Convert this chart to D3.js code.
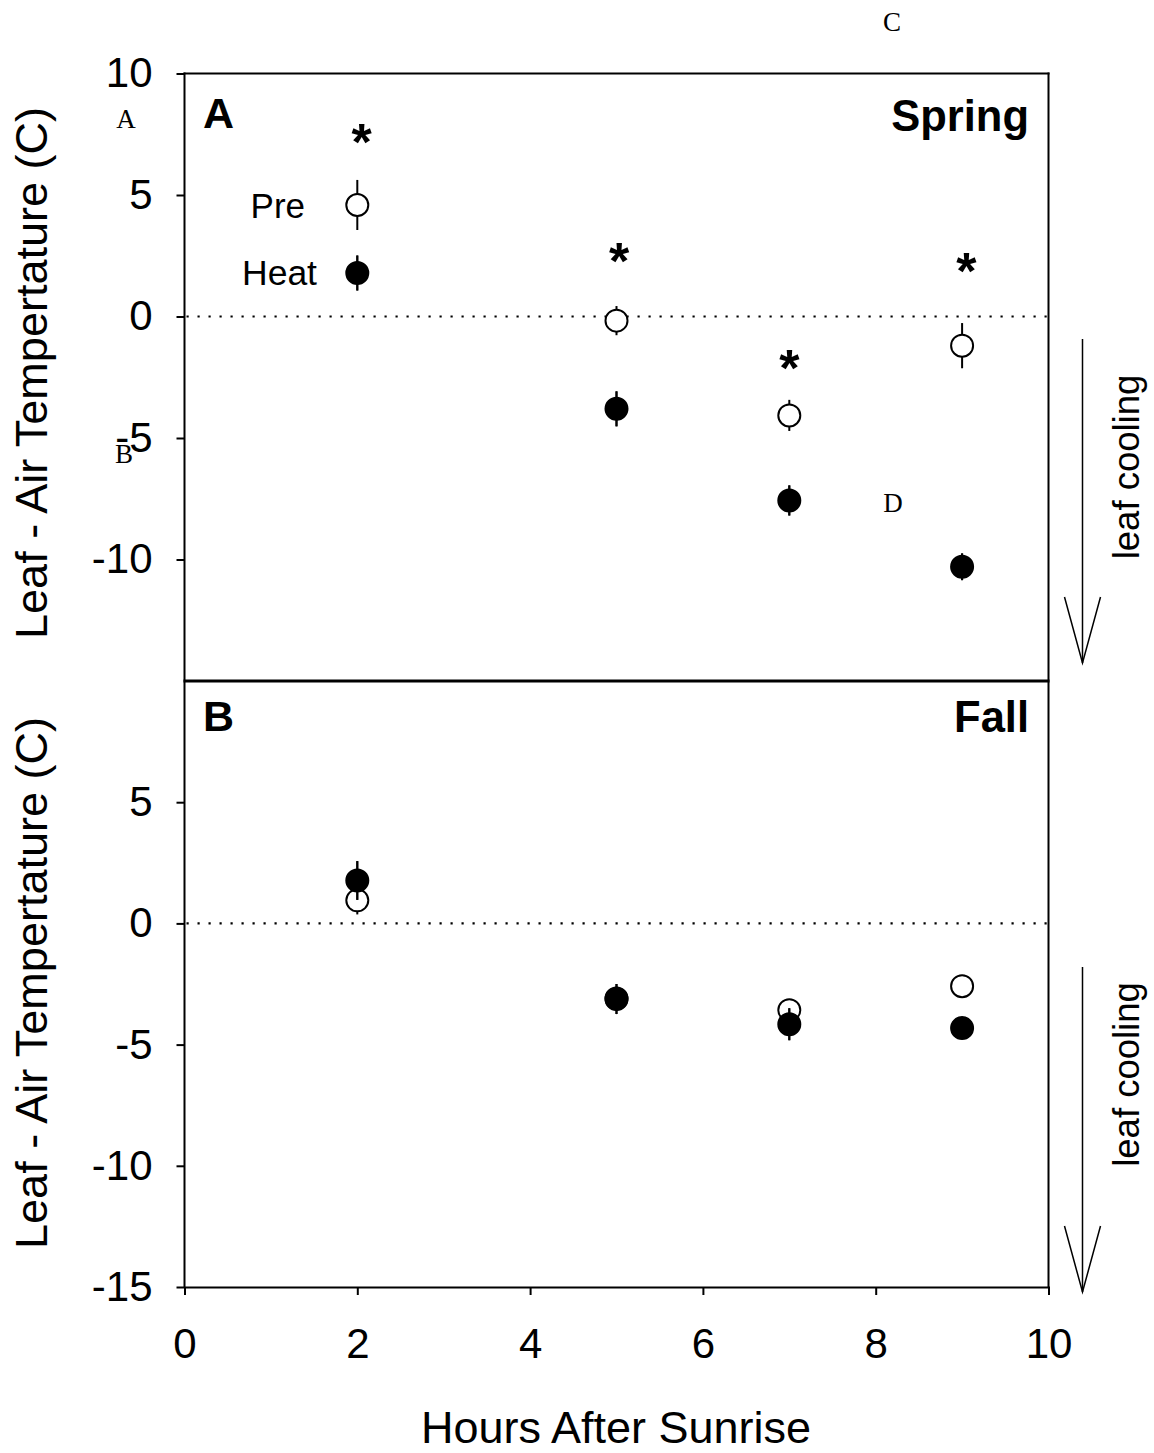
<!DOCTYPE html>
<html><head><meta charset="utf-8">
<script src="https://cdn.jsdelivr.net/npm/d3@7"></script>
<style>
body{margin:0;background:#fff}
svg{display:block}
text{font-family:"Liberation Sans",Arial,Helvetica,sans-serif;fill:#000}
</style>
</head><body>
<svg id="c" width="1154" height="1453"></svg>
<script>
// ---- data ----
const hours = [2, 5, 7, 9];
const springPre = [4.59, -0.17, -4.07, -1.2];
const springPreErr = [1.03, 0.6, 0.64, 0.93];
const springHeat = [1.79, -3.8, -7.57, -10.3];
const springHeatErr = [0.72, 0.72, 0.62, 0.55];
const fallPre = [0.95, -3.1, -3.58, -2.59];
const fallPreErr = [0.58, 0.5, 0.4, 0.3];
const fallHeat = [1.77, -3.12, -4.16, -4.32];
const fallHeatErr = [0.8, 0.62, 0.66, 0.3];
const springStarHours = [2.05, 5.03, 7.0, 9.05];
const springStarY = [7.5, 2.6, -1.8, 2.2];
const xTicks = [0, 2, 4, 6, 8, 10];
const springYTicks = [10, 5, 0, -5, -10];
const fallYTicks = [5, 0, -5, -10, -15];
const seriesNames = ["Pre", "Heat"];

// ---- layout ----
const svg = d3.select("#c");
const X0 = 184.5, X1 = 1048.5;
const x = d3.scaleLinear().domain([0, 10]).range([X0, X1]);
const fmt = d => String(d);
const panels = [
  {name: "Spring", tag: "A", top: 73.5, bottom: 681,
   pre: springPre, preErr: springPreErr, heat: springHeat, heatErr: springHeatErr, ticks: springYTicks,
   titleY: 373, coolY: 467, arrowTop: 339, arrowTip: 663},
  {name: "Fall", tag: "B", top: 681, bottom: 1287,
   pre: fallPre, preErr: fallPreErr, heat: fallHeat, heatErr: fallHeatErr, ticks: fallYTicks,
   titleY: 983, coolY: 1074.5, arrowTop: 967, arrowTip: 1292}
];

panels.forEach((p, pi) => {
  const y = d3.scaleLinear().domain([-15, 10]).range([p.bottom, p.top]);
  p.y = y;
  const g = svg.append("g");

  // y axis
  const ax = g.append("g").attr("transform", `translate(${X0},0)`)
    .call(d3.axisLeft(y).tickValues(p.ticks).tickSize(8).tickPadding(24).tickFormat(fmt));
  ax.select(".domain").remove();
  ax.selectAll(".tick line").attr("stroke", "#000").attr("stroke-width", 2);
  ax.selectAll(".tick text").attr("font-size", 42).attr("font-family", '"Liberation Sans",Arial,sans-serif').attr("fill", "#000");

  // zero dotted line
  g.append("line").attr("x1", X0 + 2).attr("x2", X1).attr("y1", y(0)).attr("y2", y(0))
    .attr("stroke", "#000").attr("stroke-width", 2.2).attr("stroke-dasharray", "2.2,8.8");

  // series: Pre first then Heat
  const series = [
    {vals: p.pre, err: p.preErr, fill: "#fff"},
    {vals: p.heat, err: p.heatErr, fill: "#000"}
  ];
  series.forEach(s => {
    const sg = g.append("g");
    sg.selectAll("line").data(hours).join("line")
      .attr("x1", (d) => x(d)).attr("x2", (d) => x(d))
      .attr("y1", (d, i) => y(s.vals[i] + s.err[i]))
      .attr("y2", (d, i) => y(s.vals[i] - s.err[i]))
      .attr("stroke", "#000").attr("stroke-width", 2);
    sg.selectAll("circle").data(hours).join("circle")
      .attr("cx", (d) => x(d)).attr("cy", (d, i) => y(s.vals[i]))
      .attr("r", 11).attr("fill", s.fill).attr("stroke", "#000").attr("stroke-width", 2);
  });
  // heat error bars drawn over the open markers
  g.append("g").selectAll("line").data(hours).join("line")
    .attr("x1", (d) => x(d)).attr("x2", (d) => x(d))
    .attr("y1", (d, i) => y(p.heat[i] + p.heatErr[i]))
    .attr("y2", (d, i) => y(p.heat[i] - p.heatErr[i]))
    .attr("stroke", "#000").attr("stroke-width", 2);

  // panel letter & season
  g.append("text").attr("x", 203).attr("y", p.top + (pi === 0 ? 54.5 : 50))
    .attr("font-size", 43).attr("font-weight", "bold").text(p.tag);
  g.append("text").attr("x", 1029).attr("y", p.top + (pi === 0 ? 57 : 51)).attr("text-anchor", "end")
    .attr("font-size", 43.5).attr("font-weight", "bold").text(p.name);

  // y title
  g.append("text").attr("transform", `translate(47,${p.titleY}) rotate(-90)`)
    .attr("text-anchor", "middle").attr("font-size", 45).text("Leaf - Air Tempertature (C)");

  // leaf cooling arrow
  const ax2 = 1082.5;
  g.append("line").attr("x1", ax2).attr("x2", ax2).attr("y1", p.arrowTop).attr("y2", p.arrowTip)
    .attr("stroke", "#000").attr("stroke-width", 1.5);
  g.append("path").attr("d", `M${ax2 - 18},${p.arrowTip - 66}L${ax2},${p.arrowTip}L${ax2 + 18},${p.arrowTip - 66}`)
    .attr("fill", "none").attr("stroke", "#000").attr("stroke-width", 1.5);
  g.append("text").attr("transform", `translate(1139,${p.coolY}) rotate(-90)`)
    .attr("text-anchor", "middle").attr("font-size", 36.5).text("leaf cooling");
});

// stars (spring)
const yS = panels[0].y;
svg.append("g").selectAll("text").data(springStarHours).join("text")
  .attr("x", d => x(d)).attr("y", (d, i) => yS(springStarY[i]) + 26)
  .attr("text-anchor", "middle").attr("font-size", 52).attr("font-weight", "bold").text("*");

// series labels next to first points
svg.append("text").attr("x", 305).attr("y", 218).attr("text-anchor", "end").attr("font-size", 35).text(seriesNames[0]);
svg.append("text").attr("x", 317).attr("y", 285).attr("text-anchor", "end").attr("font-size", 35.5).text(seriesNames[1]);

// frame
const fr = svg.append("g").attr("stroke", "#000").attr("fill", "none");
fr.append("line").attr("x1", X0).attr("x2", X0).attr("y1", 72.5).attr("y2", 1288).attr("stroke-width", 2);
fr.append("line").attr("x1", X1).attr("x2", X1).attr("y1", 72.5).attr("y2", 1288).attr("stroke-width", 2);
fr.append("line").attr("x1", X0 - 1).attr("x2", X1 + 1).attr("y1", 73.5).attr("y2", 73.5).attr("stroke-width", 2);
fr.append("line").attr("x1", X0 - 1).attr("x2", X1 + 1).attr("y1", 681).attr("y2", 681).attr("stroke-width", 3);

// x axis
const xa = svg.append("g").attr("transform", "translate(0,1287)")
  .call(d3.axisBottom(x).tickValues(xTicks).tickSize(8).tickPadding(33).tickFormat(fmt));
xa.select(".domain").attr("stroke-width", 2).attr("stroke", "#000");
xa.selectAll(".tick line").attr("stroke", "#000").attr("stroke-width", 2);
xa.selectAll(".tick text").attr("font-size", 42).attr("font-family", '"Liberation Sans",Arial,sans-serif').attr("fill", "#000");
svg.append("text").attr("x", 616).attr("y", 1443).attr("text-anchor", "middle").attr("font-size", 45).text("Hours After Sunrise");

// stray serif letters
const strayLetters = ["A", "B", "C", "D"];
const strayPos = [[126, 128], [124, 463], [892, 31], [893, 512]];
svg.append("g").selectAll("text").data(strayLetters).join("text")
  .attr("x", (d, i) => strayPos[i][0]).attr("y", (d, i) => strayPos[i][1])
  .attr("text-anchor", "middle").attr("font-size", 27)
  .style("font-family", '"Liberation Serif","Times New Roman",serif').text(d => d);
</script>
</body></html>
